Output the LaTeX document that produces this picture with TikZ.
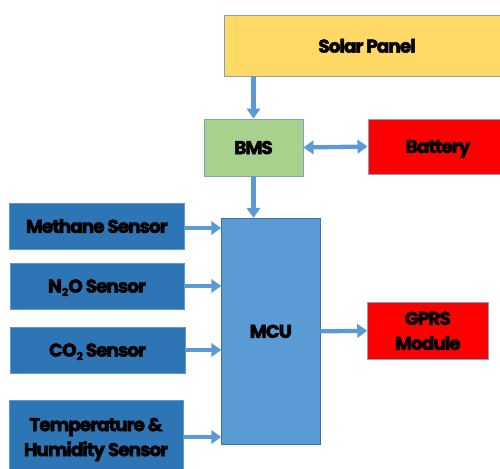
\documentclass[tikz,border=0pt]{standalone}
\usepackage{fontspec}
\setmainfont{Poppins}[BoldFont={* Bold}]
\usetikzlibrary{arrows.meta}
\definecolor{solarY}{HTML}{FFD966}
\definecolor{bmsG}{HTML}{A9D18E}
\definecolor{redB}{HTML}{FF0000}
\definecolor{sensB}{HTML}{2E75B6}
\definecolor{mcuB}{HTML}{5B9BD5}
\definecolor{edgeB}{HTML}{41719C}
\definecolor{edgeL}{HTML}{7F9FC5}
\definecolor{arrB}{HTML}{5B9BD5}
\tikzset{
  blk/.style={draw=edgeB, line width=0.9pt, inner sep=0pt, align=center, text depth=0pt,
    font=\fontsize{18.5}{25}\selectfont\bfseries\addfontfeature{LetterSpace=-5.5,FakeBold=2.5}},
  arr/.style={draw=arrB, line width=4.3pt, -{Triangle[length=10pt,width=13.5pt]}},
  darr/.style={draw=arrB, line width=4.3pt, {Triangle[length=10pt,width=13.5pt]}-{Triangle[length=10pt,width=13.5pt]}},
}
\newcommand{\subtwo}{{\fontsize{11}{11}\selectfont\raisebox{-3.5pt}{2}}}
\begin{document}
\begin{tikzpicture}[x=1pt,y=-1pt]
\useasboundingbox (0,0) rectangle (500,468);
\clip (0,0) rectangle (500,468);
\node[blk, draw=edgeL, fill=solarY, minimum width=286pt, minimum height=60.5pt] (solar) at (367,45.75) {Solar Panel};
\node[blk, draw=edgeL, fill=bmsG, minimum width=99pt, minimum height=57pt] (bms) at (253.5,147.5) {BMS};
\node[blk, draw=edgeL, fill=redB, minimum width=140pt, minimum height=55pt] (bat) at (438,146.5) {Battery};
\node[blk, draw=mcuB, fill=sensB, minimum width=174.5pt, minimum height=46pt] (meth) at (96.75,226) {Methane Sensor};
\node[blk, draw=mcuB, fill=sensB, minimum width=174pt, minimum height=46pt] (ntwo) at (97,286) {N\subtwo O Sensor};
\node[blk, draw=mcuB, fill=sensB, minimum width=175pt, minimum height=46pt] (co) at (97.5,350) {CO\subtwo\ Sensor};
\node[blk, draw=mcuB, fill=sensB, minimum width=174pt, minimum height=74pt] (temp) at (96,437) {Temperature \&\\Humidity Sensor};
\node[blk, fill=mcuB, minimum width=98.3pt, minimum height=226pt] (mcu) at (270.85,331.3) {MCU};
\node[blk, draw=edgeL, fill=redB, minimum width=120.3pt, minimum height=57pt] (gprs) at (427.85,330.8) {GPRS\\Module};
\draw[arr] (bms.north |- solar.south) -- (bms.north);
\draw[arr] (bms.south) -- (bms.south |- mcu.north);
\draw[darr] (bms.east) -- (bat.west);
\draw[arr] ([yshift=-2pt]meth.east) -- ([yshift=-2pt]meth.east -| mcu.west);
\draw[arr] (ntwo.east) -- (ntwo.east -| mcu.west);
\draw[arr] (co.east) -- (co.east -| mcu.west);
\draw[arr] (temp.east) -- (temp.east -| mcu.west);
\draw[arr] (mcu.east) -- (gprs.west);
\end{tikzpicture}
\end{document}
